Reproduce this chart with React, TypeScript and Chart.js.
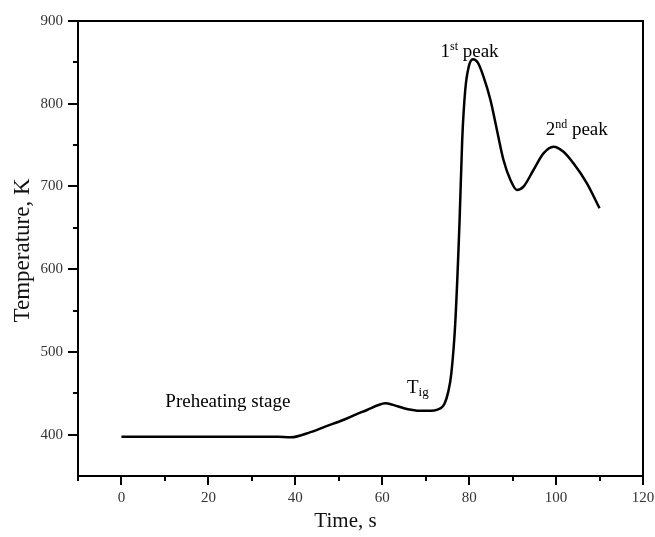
import React, { useEffect, useRef } from "react";
import { Chart, registerables } from "chart.js";

Chart.register(...registerables);

// ---- data ----
const timeS = [
  0, 10, 20, 30, 36, 39, 43.5, 47, 51, 54, 56.5, 59, 60.7, 62.5, 65, 68, 70, 72,
  73.3, 74.3, 75.2, 75.9, 76.8, 77.8, 78.4, 79.1, 79.9, 80.9, 82.0, 83.3, 84.9,
  86.4, 87.9, 89.5, 91.0, 92.5, 94.8, 97.1, 99.4, 101.7, 104.0, 107.1, 110.0,
];
const temperatureK = [
  397.5, 397.5, 397.5, 397.5, 397.3, 396.8, 403, 410, 417.7, 424.5, 429.8, 435.5,
  437.9, 436, 431.8, 429, 428.8, 429.2, 431.5, 437, 452, 474, 534.6, 659, 756,
  816.6, 844.7, 853.7, 849.6, 832.7, 804.5, 768, 732, 707.8, 695.7, 699.7, 719.9,
  740, 748, 742, 728, 703.8, 673.6,
];

const xMin = -10;
const xMax = 120;
const xStep = 20;
const yMin = 350;
const yMax = 900;
const yStep = 100;
const xMinorTicks = [-10, 10, 30, 50, 70, 90, 110];
const yMinorTicks = [450, 550, 650, 750, 850];

const xTitle = "Time, s";
const yTitle = "Temperature, K";

// annotation anchors (data units) and their text pieces
const notes = [
  { x: 10.1, y: 433.8, main: "Preheating stage", sup: "", sub: "", tail: "" },
  { x: 65.7, y: 450, main: "T", sup: "", sub: "ig", tail: "" },
  { x: 73.4, y: 857, main: "1", sup: "st", sub: "", tail: " peak" },
  { x: 97.6, y: 762, main: "2", sup: "nd", sub: "", tail: " peak" },
];

const SERIF = "'Liberation Serif', 'Times New Roman', serif";

const decorPlugin = {
  id: "decor",
  afterDraw(chart: any) {
    const { ctx, chartArea: a, scales } = chart;
    const xs = scales.x;
    const ys = scales.y;
    ctx.save();
    // top & right frame
    ctx.strokeStyle = "#000";
    ctx.lineWidth = 2;
    ctx.beginPath();
    ctx.moveTo(a.left, a.top);
    ctx.lineTo(a.right, a.top);
    ctx.lineTo(a.right, a.bottom);
    ctx.stroke();
    // minor ticks
    ctx.beginPath();
    for (const v of xMinorTicks) {
      const px = Math.round(xs.getPixelForValue(v));
      ctx.moveTo(px, a.bottom);
      ctx.lineTo(px, a.bottom + 5);
    }
    for (const v of yMinorTicks) {
      const py = Math.round(ys.getPixelForValue(v));
      ctx.moveTo(a.left, py);
      ctx.lineTo(a.left - 5, py);
    }
    ctx.stroke();

    // annotations
    ctx.fillStyle = "#000";
    ctx.textAlign = "left";
    ctx.textBaseline = "alphabetic";
    for (const n of notes) {
      let x = xs.getPixelForValue(n.x);
      const y = ys.getPixelForValue(n.y);
      ctx.font = `19px ${SERIF}`;
      ctx.fillText(n.main, x, y);
      x += ctx.measureText(n.main).width;
      if (n.sup) {
        ctx.font = `12px ${SERIF}`;
        ctx.fillText(n.sup, x, y - 7);
        x += ctx.measureText(n.sup).width;
      }
      if (n.sub) {
        ctx.font = `13px ${SERIF}`;
        ctx.fillText(n.sub, x, y + 3);
        x += ctx.measureText(n.sub).width;
      }
      if (n.tail) {
        ctx.font = `19px ${SERIF}`;
        ctx.fillText(n.tail, x, y);
      }
    }

    // axis titles
    ctx.fillStyle = "#111";
    ctx.font = `21px ${SERIF}`;
    ctx.textAlign = "center";
    ctx.fillText(xTitle, (a.left + a.right) / 2 - 15, 527);
    ctx.save();
    ctx.translate(29, (a.top + a.bottom) / 2 + 2);
    ctx.rotate(-Math.PI / 2);
    ctx.font = `23px ${SERIF}`;
    ctx.fillText(yTitle, 0, 0);
    ctx.restore();

    ctx.restore();
  },
};

export default function App() {
  const canvasRef = useRef<HTMLCanvasElement | null>(null);

  useEffect(() => {
    const canvas = canvasRef.current;
    if (!canvas) return;
    const points = timeS.map((t, i) => ({ x: t, y: temperatureK[i] }));
    const chart = new Chart(canvas, {
      type: "line",
      data: {
        datasets: [
          {
            data: points,
            borderColor: "#000",
            borderWidth: 2.5,
            pointRadius: 0,
            fill: false,
            tension: 0.4,
            cubicInterpolationMode: "monotone",
          },
        ],
      },
      options: {
        responsive: false,
        animation: false,
        layout: { padding: { top: 21, right: 12, left: 0, bottom: 0 } },
        plugins: {
          legend: { display: false },
          tooltip: { enabled: false },
          title: { display: false },
        },
        scales: {
          x: {
            type: "linear",
            min: xMin,
            max: xMax,
            afterFit(scale: any) {
              scale.height = 61;
              scale.paddingLeft = 0;
              scale.paddingRight = 0;
            },
            ticks: {
              stepSize: xStep,
              includeBounds: false,
              color: "#333",
              font: { family: SERIF, size: 15 },
              padding: 4,
              maxRotation: 0,
            },
            grid: {
              drawOnChartArea: false,
              drawTicks: true,
              tickLength: 9,
              color: "#000",
              lineWidth: 2,
            },
            border: { display: true, color: "#000", width: 2 },
          },
          y: {
            type: "linear",
            min: yMin,
            max: yMax,
            afterFit(scale: any) {
              scale.width = 78;
              scale.paddingTop = 0;
              scale.paddingBottom = 0;
            },
            ticks: {
              stepSize: yStep,
              includeBounds: false,
              color: "#333",
              font: { family: SERIF, size: 15 },
              padding: 5,
            },
            grid: {
              drawOnChartArea: false,
              drawTicks: true,
              tickLength: 10,
              color: "#000",
              lineWidth: 2,
            },
            border: { display: true, color: "#000", width: 2 },
          },
        },
      },
      plugins: [decorPlugin],
    });
    return () => chart.destroy();
  }, []);

  return (
    <div style={{ position: "absolute", left: 0, top: 0, width: 655, height: 537, background: "#fff" }}>
      <canvas ref={canvasRef} width={655} height={537} style={{ display: "block" }} />
    </div>
  );
}
